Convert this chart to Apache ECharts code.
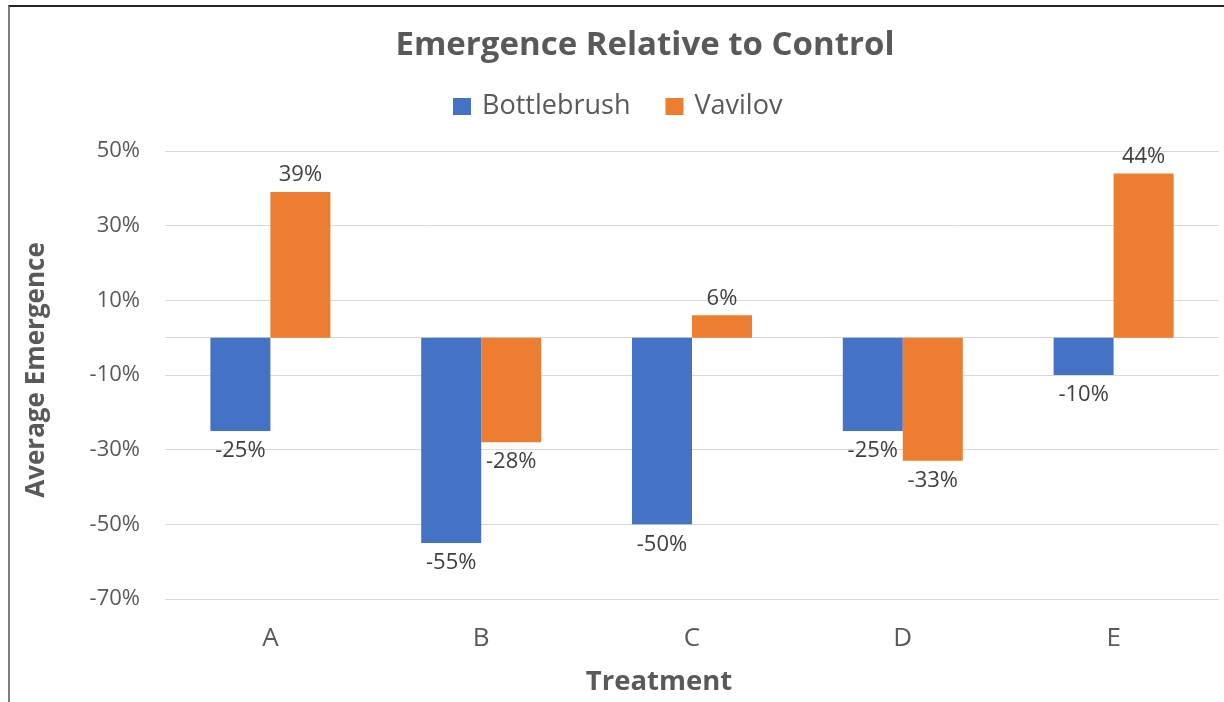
<!DOCTYPE html>
<html>
<head>
<meta charset="utf-8">
<script src="https://cdn.jsdelivr.net/npm/echarts@6/dist/echarts.min.js"></script>
<style>
  html, body { margin: 0; padding: 0; background: #fff; }
  #wrap { position: relative; width: 1224px; height: 702px; overflow: hidden; }
  #chart { position: absolute; left: 0; top: 0; width: 1224px; height: 702px; }
  #frame {
    position: absolute; left: 8px; top: 5px; width: 1230px; height: 720px;
    border-top: 2px solid #262626; border-left: 2px solid #7f7f7f;
    pointer-events: none;
  }
</style>
</head>
<body>
<div id="wrap">
  <div id="chart"></div>
  <div id="frame"></div>
</div>
<script>
// Treatments and emergence relative to control (percent)
const categories = ['A', 'B', 'C', 'D', 'E'];
const bottlebrush = [-25, -55, -50, -25, -10];
const vavilov = [39, -28, 6, -33, 44];
const yTicks = [-70, -50, -30, -10, 10, 30, 50];

const FONT = '"Open Sans", "Liberation Sans", sans-serif';
const TEXT = '#595959';

// value labels sit above positive bars and below negative ones
function labelled(values) {
  return values.map(v => ({
    value: v,
    label: v >= 0 ? { position: 'top', distance: 6 } : { position: 'bottom', distance: 9 }
  }));
}

const chart = echarts.init(document.getElementById('chart'), null, { renderer: 'canvas' });

chart.setOption({
  animation: false,
  textStyle: { fontFamily: FONT },
  title: {
    text: 'Emergence Relative to Control',
    left: 640,
    textAlign: 'center',
    top: 24,
    textStyle: { fontFamily: FONT, fontSize: 33, fontWeight: 'bold', color: TEXT }
  },
  legend: {
    data: ['Bottlebrush', 'Vavilov'],
    left: 448,
    top: 88,
    itemWidth: 18,
    itemHeight: 17,
    itemGap: 35,
    icon: 'rect',
    textStyle: { fontFamily: FONT, fontSize: 27, color: TEXT, padding: [0, 0, 0, 6] }
  },
  grid: { left: 165, right: 5, top: 151, bottom: 103, containLabel: false },
  xAxis: {
    type: 'category',
    data: categories,
    axisLine: { show: false, onZero: false },
    axisTick: { show: false },
    axisLabel: { margin: 27, fontSize: 26, color: TEXT, fontFamily: FONT },
    splitLine: { show: false }
  },
  yAxis: {
    type: 'value',
    min: -70,
    max: 50,
    interval: 10,
    axisLine: { show: false },
    axisTick: { show: false },
    axisLabel: {
      margin: 25,
      fontSize: 22,
      color: TEXT,
      fontFamily: FONT,
      formatter: v => (yTicks.indexOf(v) >= 0 ? v + '%' : '')
    },
    splitLine: {
      show: true,
      lineStyle: { color: ['#d9d9d9', 'rgba(0,0,0,0)'], width: 1 }
    }
  },
  graphic: [
    {
      type: 'text',
      rotation: Math.PI / 2,
      x: 37, y: 370,
      style: {
        text: 'Average Emergence',
        fontFamily: FONT, fontSize: 26, fontWeight: 'bold', fill: TEXT,
        align: 'center', verticalAlign: 'middle'
      }
    },
    {
      type: 'text',
      x: 659, y: 682,
      style: {
        text: 'Treatment',
        fontFamily: FONT, fontSize: 27.5, fontWeight: 'bold', fill: TEXT,
        align: 'center', verticalAlign: 'middle'
      }
    }
  ],
  series: [
    {
      name: 'Bottlebrush',
      type: 'bar',
      data: labelled(bottlebrush),
      barWidth: 60,
      barGap: '0%',
      itemStyle: { color: '#4472C4' },
      label: {
        show: true, fontSize: 22, color: '#404040', fontFamily: FONT,
        formatter: p => p.value + '%'
      },
      markLine: {
        silent: true,
        symbol: 'none',
        z: 1,
        label: { show: false },
        lineStyle: { color: '#d9d9d9', type: 'solid', width: 1 },
        data: [{ yAxis: 0 }]
      }
    },
    {
      name: 'Vavilov',
      type: 'bar',
      data: labelled(vavilov),
      barWidth: 60,
      barGap: '0%',
      itemStyle: { color: '#ED7D31' },
      label: {
        show: true, fontSize: 22, color: '#404040', fontFamily: FONT,
        formatter: p => p.value + '%'
      }
    }
  ]
});
</script>
</body>
</html>
